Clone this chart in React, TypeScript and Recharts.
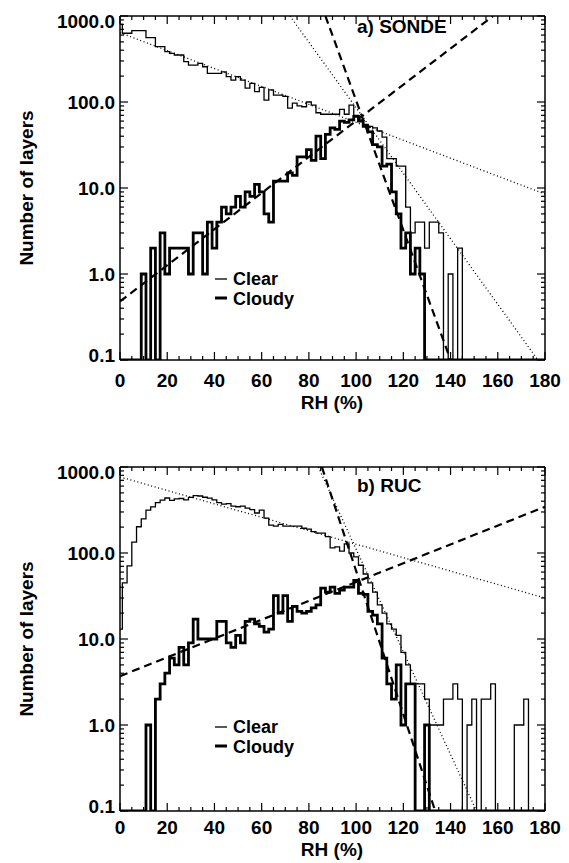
import React from 'react';
import { LineChart, Line, XAxis, YAxis } from 'recharts';

const W = 569;
const FLOOR = 0.1;

// layers per RH bin, bins 2 % wide centred on 0, 2, 4 ... 180 %
const clearSonde = [
  800, 630, 630, 675, 675, 675, 560, 560, 440, 440,
  385, 368, 352, 352, 295, 269, 269, 282, 257, 215,
  215, 215, 224, 197, 180, 197, 180, 145, 165, 132,
  148, 105, 138, 120, 120, 116, 85, 97, 90, 88,
  100, 92, 75, 72, 72, 72, 72, 82, 72, 92,
  70, 62, 55, 52, 50, 46, 39, 22, 22, 18,
  18, 6, 3, 4, 4, 2, 4, 4, 3, 0,
  1, 0, 2, 0, 0, 0, 0, 0, 0, 0,
  0, 0, 0, 0, 0, 0, 0, 0, 0, 0, 0,
];
const cloudySonde = [
  0, 0, 0, 0, 0, 1, 0, 2, 0, 3,
  1, 2, 2, 2, 2, 1, 3, 3, 1, 4,
  2, 4, 6, 5, 6, 8, 6, 9, 8, 11,
  9, 5, 4, 12, 12, 12, 15, 14, 23, 23,
  28, 21, 40, 22, 42, 50, 48, 60, 58, 62,
  68, 60, 52, 45, 32, 30, 18, 19, 9, 5,
  2, 3, 1, 2, 1, 0, 0, 0, 0, 0,
  0, 0, 0, 0, 0, 0, 0, 0, 0, 0,
  0, 0, 0, 0, 0, 0, 0, 0, 0, 0, 0,
];
const clearRuc = [
  13, 45, 71, 134, 202, 250, 316, 343, 385, 413,
  436, 410, 425, 430, 415, 444, 465, 460, 445, 435,
  415, 385, 370, 375, 350, 345, 350, 333, 320, 292,
  315, 255, 211, 205, 215, 205, 205, 205, 205, 194,
  190, 177, 170, 170, 155, 115, 118, 105, 128, 100,
  90, 72, 57, 45, 35, 25, 20, 15, 13, 11,
  7, 5, 3, 3, 3, 2, 1, 1, 1, 2,
  2, 3, 2, 0, 1, 2, 0, 2, 2, 3,
  0, 0, 0, 0, 1, 1, 2, 0, 0, 0, 0,
];
const cloudyRuc = [
  0, 0, 0, 0, 0, 0, 1, 0, 2, 3,
  4, 6, 5, 8, 5, 9, 17, 10, 10, 10,
  10, 16, 16, 9, 8, 11, 9, 16, 17, 15,
  14, 12, 13, 32, 20, 32, 16, 24, 21, 20,
  21, 23, 25, 39, 35, 40, 34, 37, 40, 40,
  48, 34, 33, 21, 19, 15, 6, 3, 2, 5,
  1, 3, 3, 0, 0, 1, 0, 0, 0, 0,
  0, 0, 0, 0, 0, 0, 0, 0, 0, 0,
  0, 0, 0, 0, 0, 0, 0, 0, 0, 0, 0,
];

// exponential fits, given by their end points
const sondeClearFit = [{ rh: 0, n: 640 }, { rh: 180, n: 8.5 }];
const sondeClearTail = [{ rh: 72, n: 1000 }, { rh: 177, n: 0.1 }];
const sondeCloudyRise = [{ rh: 0, n: 0.48 }, { rh: 158, n: 1000 }];
const sondeCloudyTail = [{ rh: 87, n: 1000 }, { rh: 140, n: 0.1 }];
const rucClearFit = [{ rh: 0, n: 765 }, { rh: 180, n: 30 }];
const rucClearTail = [{ rh: 84, n: 1000 }, { rh: 151, n: 0.1 }];
const rucCloudyRise = [{ rh: 0, n: 3.7 }, { rh: 180, n: 345 }];
const rucCloudyTail = [{ rh: 85.5, n: 1000 }, { rh: 133.5, n: 0.1 }];

const decades = [0.1, 1, 10, 100, 1000];
const rhTicks: number[] = [];
for (let r = 0; r <= 180; r += 5) rhTicks.push(r);
const countTicks = decades.flatMap((d) =>
  d === 1000 ? [d] : [1, 2, 3, 4, 5, 6, 7, 8, 9].map((k) => +(k * d).toPrecision(3))
);

const font: React.CSSProperties = {
  fontFamily: "'Liberation Sans', Arial, Helvetica, sans-serif",
  fontWeight: 700,
  fontSize: 19,
  fill: '#000',
};
const legendFont: React.CSSProperties = { ...font, fontSize: 18 };
const axisLine = { stroke: '#000', strokeWidth: 1.5 };
const isDecade = (v: number) => decades.some((d) => Math.abs(v / d - 1) < 1e-6);

const bottomTick = (labelDy: number) => (p: any) => {
  const v = p.payload.value;
  const major = v % 20 === 0;
  return (
    <g>
      <line x1={p.x} x2={p.x} y1={p.y} y2={p.y - (major ? 8 : 4)} stroke="#000" strokeWidth={1.2} />
      {major && (
        <text x={p.x} y={p.y + labelDy} textAnchor="middle" style={font}>
          {v}
        </text>
      )}
    </g>
  );
};

const topTick = (p: any) => {
  const major = p.payload.value % 20 === 0;
  return <line x1={p.x} x2={p.x} y1={p.y} y2={p.y + (major ? 8 : 4)} stroke="#000" strokeWidth={1.2} />;
};

const leftTick = (p: any) => {
  const v = p.payload.value;
  const major = isDecade(v);
  const dy = v >= 999 ? 12 : v < 0.11 ? 2 : 7;
  return (
    <g>
      <line x1={p.x} x2={p.x + (major ? 8 : 4)} y1={p.y} y2={p.y} stroke="#000" strokeWidth={1.2} />
      {major && (
        <text x={p.x - 5} y={p.y + dy} textAnchor="end" style={font}>
          {v.toFixed(1)}
        </text>
      )}
    </g>
  );
};

const rightTick = (p: any) => {
  const major = isDecade(p.payload.value);
  return <line x1={p.x} x2={p.x - (major ? 8 : 4)} y1={p.y} y2={p.y} stroke="#000" strokeWidth={1.2} />;
};

type Fit = { rh: number; n: number }[];

interface PanelProps {
  clear: number[];
  cloudy: number[];
  clearFits: Fit[];
  cloudyFits: Fit[];
  height: number;
  marginTop: number;
  marginBottom: number;
  xAxisHeight: number;
  labelDy: number;
}

function Panel({ clear, cloudy, clearFits, cloudyFits, height, marginTop, marginBottom, xAxisHeight, labelDy }: PanelProps) {
  const rows = clear.map((c, i) => ({
    rh: i * 2,
    clear: Math.max(c, FLOOR),
    cloudy: Math.max(cloudy[i], FLOOR),
  }));
  return (
    <LineChart
      width={W}
      height={height}
      data={rows}
      margin={{ top: marginTop, right: 23, bottom: marginBottom, left: 20 }}
    >
      <XAxis
        xAxisId="b"
        dataKey="rh"
        type="number"
        domain={[0, 180]}
        allowDataOverflow
        ticks={rhTicks}
        interval={0}
        height={xAxisHeight}
        tickSize={0}
        tickMargin={0}
        tickLine={false}
        axisLine={axisLine}
        tick={bottomTick(labelDy)}
      />
      <XAxis
        xAxisId="t"
        orientation="top"
        dataKey="rh"
        type="number"
        domain={[0, 180]}
        allowDataOverflow
        ticks={rhTicks}
        interval={0}
        height={1}
        tickSize={0}
        tickMargin={0}
        tickLine={false}
        axisLine={axisLine}
        tick={topTick}
      />
      <YAxis
        yAxisId="l"
        type="number"
        scale="log"
        domain={[0.1, 1000]}
        allowDataOverflow
        ticks={countTicks}
        interval={0}
        width={100}
        tickSize={0}
        tickMargin={0}
        tickLine={false}
        axisLine={axisLine}
        tick={leftTick}
      />
      <YAxis
        yAxisId="r"
        orientation="right"
        type="number"
        scale="log"
        domain={[0.1, 1000]}
        allowDataOverflow
        ticks={countTicks}
        interval={0}
        width={1}
        tickSize={0}
        tickMargin={0}
        tickLine={false}
        axisLine={axisLine}
        tick={rightTick}
      />
      {clearFits.map((f, i) => (
        <Line
          key={'clearfit' + i}
          xAxisId="t"
          yAxisId="r"
          data={f}
          dataKey="n"
          type="linear"
          stroke="#000"
          strokeWidth={1.3}
          strokeDasharray="1 2.6"
          dot={false}
          isAnimationActive={false}
        />
      ))}
      {cloudyFits.map((f, i) => (
        <Line
          key={'cloudyfit' + i}
          xAxisId="t"
          yAxisId="r"
          data={f}
          dataKey="n"
          type="linear"
          stroke="#000"
          strokeWidth={2.2}
          strokeDasharray="8 5"
          dot={false}
          isAnimationActive={false}
        />
      ))}
      <Line
        xAxisId="b"
        yAxisId="l"
        dataKey="clear"
        type="step"
        stroke="#000"
        strokeWidth={1.3}
        dot={false}
        isAnimationActive={false}
      />
      <Line
        xAxisId="b"
        yAxisId="l"
        dataKey="cloudy"
        type="step"
        stroke="#000"
        strokeWidth={2.8}
        dot={false}
        isAnimationActive={false}
      />
    </LineChart>
  );
}

function Legend({ y }: { y: number }) {
  return (
    <g>
      <line x1={215} x2={227} y1={y} y2={y} stroke="#000" strokeWidth={1.3} />
      <text x={233} y={y + 6} style={legendFont}>
        Clear
      </text>
      <line x1={215} x2={227} y1={y + 19} y2={y + 19} stroke="#000" strokeWidth={3} />
      <text x={233} y={y + 26} style={legendFont}>
        Cloudy
      </text>
    </g>
  );
}

export default function App() {
  return (
    <div style={{ position: 'absolute', left: 0, top: 0, width: W, height: 863, background: '#fff' }}>
      <div style={{ position: 'absolute', left: 0, top: 0 }}>
        <Panel
          clear={clearSonde}
          cloudy={cloudySonde}
          clearFits={[sondeClearFit, sondeClearTail]}
          cloudyFits={[sondeCloudyRise, sondeCloudyTail]}
          height={430}
          marginTop={15}
          marginBottom={10}
          xAxisHeight={60}
          labelDy={27}
        />
      </div>
      <div style={{ position: 'absolute', left: 0, top: 430 }}>
        <Panel
          clear={clearRuc}
          cloudy={cloudyRuc}
          clearFits={[rucClearFit, rucClearTail]}
          cloudyFits={[rucCloudyRise, rucCloudyTail]}
          height={433}
          marginTop={36}
          marginBottom={2}
          xAxisHeight={50}
          labelDy={23}
        />
      </div>
      <svg
        width={W}
        height={863}
        style={{ position: 'absolute', left: 0, top: 0, pointerEvents: 'none' }}
      >
        <text transform="translate(33,188) rotate(-90)" textAnchor="middle" style={font}>
          Number of layers
        </text>
        <text x={332} y={409} textAnchor="middle" style={font}>
          RH (%)
        </text>
        <text x={357} y={33} style={font}>
          a) SONDE
        </text>
        <Legend y={279} />

        <text transform="translate(33,639) rotate(-90)" textAnchor="middle" style={font}>
          Number of layers
        </text>
        <text x={332} y={856} textAnchor="middle" style={font}>
          RH (%)
        </text>
        <text x={357} y={492} style={font}>
          b) RUC
        </text>
        <Legend y={727} />
      </svg>
    </div>
  );
}
